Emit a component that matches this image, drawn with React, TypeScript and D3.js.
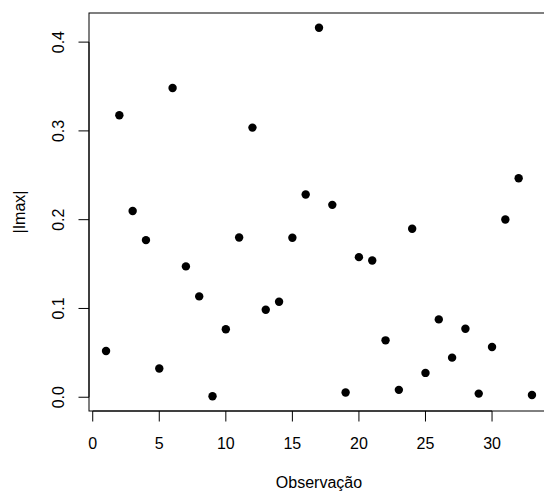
import React, { useEffect, useRef } from "react";
import * as d3 from "d3";

// |Imax| per observation (index 1..33)
const obs = d3.range(1, 34);
const imax = [
  0.0521, 0.3176, 0.2098, 0.177, 0.0323, 0.3483, 0.1474, 0.1136, 0.0011, 0.0765,
  0.18, 0.3037, 0.0986, 0.1076, 0.1796, 0.2283, 0.4162, 0.2167, 0.0053, 0.1578,
  0.1541, 0.0641, 0.0083, 0.1897, 0.0274, 0.0877, 0.0446, 0.0772, 0.0041, 0.0566,
  0.2002, 0.2467, 0.0026,
];
const xTicks = [0, 5, 10, 15, 20, 25, 30];
const yTicks = [0, 0.1, 0.2, 0.3, 0.4];

const App = () => {
  const svgRef = useRef<SVGSVGElement>(null);

  useEffect(() => {
    const svg = d3.select(svgRef.current);
    svg.selectAll("*").remove();
    const font = "'Liberation Sans', Arial, sans-serif";

    // R style 4% padding on both axes
    const pad = (lo: number, hi: number) => {
      const p = (hi - lo) * 0.04;
      return [lo - p, hi + p];
    };
    const left = 89, right = 549, top = 13, bottom = 411;
    const x = d3.scaleLinear().domain(pad(d3.min(obs)!, d3.max(obs)!)).range([left, right]);
    const y = d3.scaleLinear().domain(pad(d3.min(imax)!, d3.max(imax)!)).range([bottom, top]);

    svg.append("rect")
      .attr("x", left).attr("y", top)
      .attr("width", right - left).attr("height", bottom - top)
      .attr("fill", "none").attr("stroke", "#000").attr("stroke-width", 1);

    // x axis
    const gx = svg.append("g");
    gx.append("line")
      .attr("x1", x(xTicks[0])).attr("x2", x(xTicks[xTicks.length - 1]))
      .attr("y1", bottom).attr("y2", bottom).attr("stroke", "#000");
    gx.selectAll(".tk").data(xTicks).enter().append("line")
      .attr("x1", d => x(d)).attr("x2", d => x(d))
      .attr("y1", bottom).attr("y2", bottom + 10.5).attr("stroke", "#000");
    gx.selectAll("text").data(xTicks).enter().append("text")
      .attr("x", d => x(d)).attr("y", 449)
      .attr("text-anchor", "middle")
      .style("font-family", font).style("font-size", "16px")
      .text(d => String(d));

    // y axis
    const gy = svg.append("g");
    gy.append("line")
      .attr("x1", left).attr("x2", left)
      .attr("y1", y(yTicks[0])).attr("y2", y(yTicks[yTicks.length - 1])).attr("stroke", "#000");
    gy.selectAll(".tk").data(yTicks).enter().append("line")
      .attr("x1", left).attr("x2", left - 10.5)
      .attr("y1", d => y(d)).attr("y2", d => y(d)).attr("stroke", "#000");
    gy.selectAll("text").data(yTicks).enter().append("text")
      .attr("transform", d => `translate(64,${y(d)}) rotate(-90)`)
      .attr("text-anchor", "middle")
      .style("font-family", font).style("font-size", "16px")
      .text(d => d3.format(".1f")(d));

    // titles
    svg.append("text")
      .attr("x", (left + right) / 2).attr("y", 488)
      .attr("text-anchor", "middle")
      .style("font-family", font).style("font-size", "16px")
      .text("Observação");
    svg.append("text")
      .attr("transform", `translate(25,${(top + bottom) / 2}) rotate(-90)`)
      .attr("text-anchor", "middle")
      .style("font-family", font).style("font-size", "16px")
      .text("|Imax|");

    // points
    svg.selectAll(".pt").data(imax).enter().append("circle")
      .attr("cx", (d, i) => x(obs[i]))
      .attr("cy", d => y(d))
      .attr("r", 4.2)
      .attr("fill", "#000");
  }, []);

  return (
    <div>
      <svg ref={svgRef} width={544} height={494}
        style={{ position: "absolute", left: 0, top: 0, background: "#fff" }} />
    </div>
  );
};

export default App;
